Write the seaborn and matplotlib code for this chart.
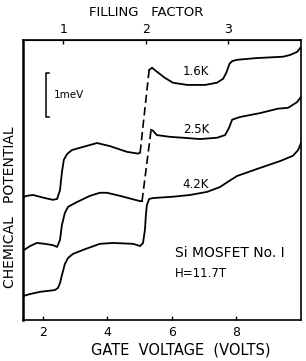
import numpy as np
import pandas as pd
import matplotlib
matplotlib.use("Agg")
import matplotlib.pyplot as plt
import seaborn as sns

# gate voltage (V) and chemical potential (meV, arbitrary offset)
v_16 = [1.41, 1.50, 1.69, 2.06, 2.31, 2.44, 2.53, 2.59, 2.65, 2.75, 2.90, 3.24, 3.68, 4.08,
        4.61, 4.95, 5.02, 5.30, 5.39, 5.54, 5.79, 6.04, 6.48, 7.04, 7.41, 7.60, 7.70, 7.80,
        7.88, 8.03, 8.65, 9.46, 9.68, 9.90, 10.02]
e_16 = [2.80, 2.82, 2.84, 2.77, 2.73, 2.75, 2.95, 3.36, 3.64, 3.77, 3.86, 3.93, 4.02, 3.95,
        3.82, 3.78, 3.80, 5.68, 5.73, 5.64, 5.50, 5.39, 5.34, 5.34, 5.39, 5.48, 5.62, 5.82,
        5.88, 5.91, 5.95, 5.98, 6.02, 6.09, 6.20]
step_16 = 16  # dashed jump after this index

v_25 = [1.41, 1.60, 1.81, 2.06, 2.31, 2.44, 2.53, 2.59, 2.68, 2.78, 3.06, 3.46, 3.77, 3.99,
        4.39, 5.02, 5.08, 5.36, 5.42, 5.54, 5.95, 6.35, 6.88, 7.41, 7.66, 7.78, 7.88, 8.12,
        8.75, 9.30, 9.62, 9.90, 10.02]
e_25 = [1.59, 1.68, 1.75, 1.73, 1.70, 1.66, 1.82, 2.16, 2.43, 2.57, 2.68, 2.82, 2.89, 2.89,
        2.82, 2.70, 2.70, 4.32, 4.30, 4.20, 4.16, 4.14, 4.11, 4.14, 4.20, 4.36, 4.55, 4.61,
        4.70, 4.80, 4.82, 4.95, 5.07]
step_25 = 16

v_42 = [1.41, 1.60, 1.91, 2.37, 2.47, 2.53, 2.59, 2.68, 2.78, 2.93, 3.31, 3.77, 4.18, 4.80,
        5.02, 5.11, 5.17, 5.20, 5.23, 5.30, 5.42, 6.04, 6.57, 7.10, 7.50, 7.75, 8.03, 8.65,
        9.37, 9.77, 9.93, 10.02]
e_42 = [0.55, 0.59, 0.64, 0.68, 0.73, 0.84, 1.02, 1.27, 1.41, 1.50, 1.61, 1.73, 1.75, 1.73,
        1.68, 1.75, 2.05, 2.39, 2.61, 2.75, 2.77, 2.80, 2.84, 2.91, 3.02, 3.14, 3.27, 3.43,
        3.61, 3.73, 3.86, 4.02]
step_42 = None

temps = ["1.6K", "2.5K", "4.2K"]
label_pos = [(6.76, 5.65), (6.76, 4.32), (6.73, 3.07)]

fig = plt.figure(figsize=(3.06, 3.61), dpi=100)
ax = fig.add_axes([23 / 306, 41 / 361, 278 / 306, 280 / 361])

curves = [(v_16, e_16, step_16), (v_25, e_25, step_25), (v_42, e_42, step_42)]
for v, e, k in curves:
    v = np.array(v)
    e = np.array(e)
    if k is None:
        sns.lineplot(x=v, y=e, sort=False, estimator=None, color="black", lw=1.3, ax=ax)
        continue
    sns.lineplot(x=v[:k + 1], y=e[:k + 1], sort=False, estimator=None, color="black", lw=1.3, ax=ax)
    sns.lineplot(x=v[k:k + 2], y=e[k:k + 2], sort=False, estimator=None, color="black", lw=1.2,
                 ls=(0, (5, 2.5)), ax=ax)
    sns.lineplot(x=v[k + 1:], y=e[k + 1:], sort=False, estimator=None, color="black", lw=1.3, ax=ax)

for t, (x, y) in zip(temps, label_pos):
    ax.text(x, y, t, ha="center", va="center", fontsize=8.5)

# 1 meV scale bar
bx, by0, by1 = 2.09, 4.61, 5.61
ax.plot([bx + 0.1, bx, bx, bx + 0.1], [by0, by0, by1, by1], color="black", lw=1.1)
ax.text(2.35, 5.1, "1meV", ha="left", va="center", fontsize=7.5)

ax.text(6.1, 1.52, "Si MOSFET No. I", ha="left", va="center", fontsize=10)
ax.text(6.1, 1.05, "H=11.7T", ha="left", va="center", fontsize=8.5)

ax.set_xlim(1.38, 10.02)
ax.set_ylim(0, 6.36)
ax.set_xticks([2, 4, 6, 8])
ax.set_yticks([])
ax.tick_params(axis="x", direction="in", length=3, width=1, labelsize=9, pad=4)
for s in ax.spines.values():
    s.set_linewidth(1.2)
ax.spines["left"].set_linewidth(1.8)

sec = ax.secondary_xaxis("top", functions=(lambda v: (v - 0.065) / 2.565,
                                           lambda n: n * 2.565 + 0.065))
sec.set_xticks([1, 2, 3])
sec.tick_params(direction="in", length=3, width=1, labelsize=9, pad=3)

# axis titles placed in figure pixels (306 x 361)
fig.text(181 / 306, 1 - 350 / 361, "GATE  VOLTAGE  (VOLTS)", ha="center", va="center", fontsize=10.5)
fig.text(146 / 306, 1 - 12 / 361, "FILLING   FACTOR", ha="center", va="center", fontsize=9.5)
fig.text(10 / 306, 1 - 207 / 361, "CHEMICAL   POTENTIAL", ha="center", va="center",
         rotation=90, fontsize=10)

fig.savefig("out.png", dpi=100)
